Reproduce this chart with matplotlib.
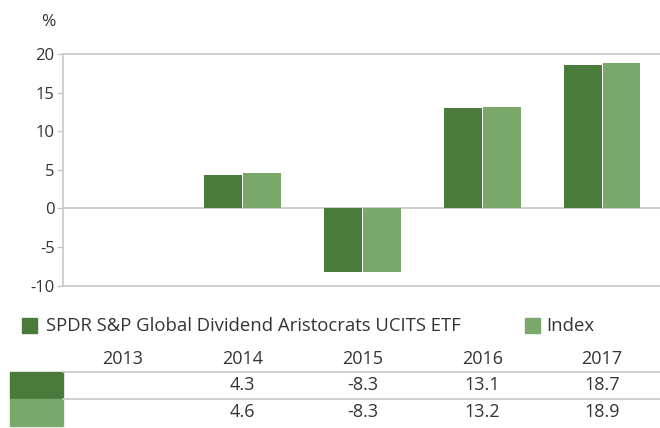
import matplotlib.pyplot as plt
from matplotlib.patches import Rectangle
from matplotlib.lines import Line2D

plt.rcParams['font.family'] = ['Open Sans', 'DejaVu Sans']
plt.rcParams['axes.unicode_minus'] = False

years = ['2013', '2014', '2015', '2016', '2017']
etf = [None, 4.3, -8.3, 13.1, 18.7]
index = [None, 4.6, -8.3, 13.2, 18.9]
series_names = ['SPDR S&P Global Dividend Aristocrats UCITS ETF', 'Index']

dark = '#4a7b3a'
light = '#7aa86b'
grey = '#c8c8c8'
txt = '#333333'

W, H = 660, 428
fig = plt.figure(figsize=(6.6, 4.28), dpi=100)
ax = fig.add_axes([63 / W, 1 - 285.5 / H, 599 / W, 231 / H])

bw = 0.315
xs = range(len(years))
for i in xs:
    if etf[i] is not None:
        ax.bar(i - bw / 2 - 0.005, etf[i], width=bw, color=dark)
    if index[i] is not None:
        ax.bar(i + bw / 2 + 0.005, index[i], width=bw, color=light)

ax.set_xlim(-0.5, 4.5)
ax.set_ylim(-10, 20)
ax.set_yticks(range(-10, 21, 5))
ax.set_xticks([])
ax.axhline(0, color=grey, lw=1.2, zorder=0)
ax.axhline(20, color=grey, lw=1.2, zorder=0, clip_on=False)
for s in ['top', 'right']:
    ax.spines[s].set_visible(False)
for s in ['left', 'bottom']:
    ax.spines[s].set_color(grey)
    ax.spines[s].set_linewidth(1.2)
ax.tick_params(axis='y', colors=grey, labelcolor=txt, labelsize=12, length=4, width=1, pad=2)
fig.text(48 / W, 1 - 22 / H, '%', fontsize=12.5, color=txt, ha='center', va='center')

# legend
def fy(p):
    return 1 - p / H

fig.patches.append(Rectangle((22 / W, fy(333)), 15 / W, 15 / H, color=dark, transform=fig.transFigure))
fig.text(46 / W, fy(326), series_names[0], fontsize=13.3, color=txt, va='center')
fig.patches.append(Rectangle((525 / W, fy(333)), 15 / W, 15 / H, color=light, transform=fig.transFigure))
fig.text(546 / W, fy(326), series_names[1], fontsize=13.3, color=txt, va='center')

# data table
tr = ax.get_xaxis_transform()
def ay(p):
    # pixel y -> axes fraction
    return (285.5 - p) / 231

for i, y in enumerate(years):
    ax.text(i, ay(359), y, transform=tr, ha='center', va='center', fontsize=13, color=txt, clip_on=False)
    if etf[i] is not None:
        ax.text(i, ay(385), f'{etf[i]:.1f}', transform=tr, ha='center', va='center', fontsize=13, color=txt, clip_on=False)
    if index[i] is not None:
        ax.text(i, ay(412), f'{index[i]:.1f}', transform=tr, ha='center', va='center', fontsize=13, color=txt, clip_on=False)

fig.patches.append(Rectangle((10 / W, fy(399)), 53 / W, 27 / H, color=dark, transform=fig.transFigure))
fig.patches.append(Rectangle((10 / W, fy(426)), 53 / W, 27 / H, color=light, transform=fig.transFigure))
for p in [372, 399]:
    fig.lines.append(Line2D([63 / W, 1], [fy(p), fy(p)], color=grey, lw=1.2, transform=fig.transFigure))

fig.savefig('out.png', dpi=100)
